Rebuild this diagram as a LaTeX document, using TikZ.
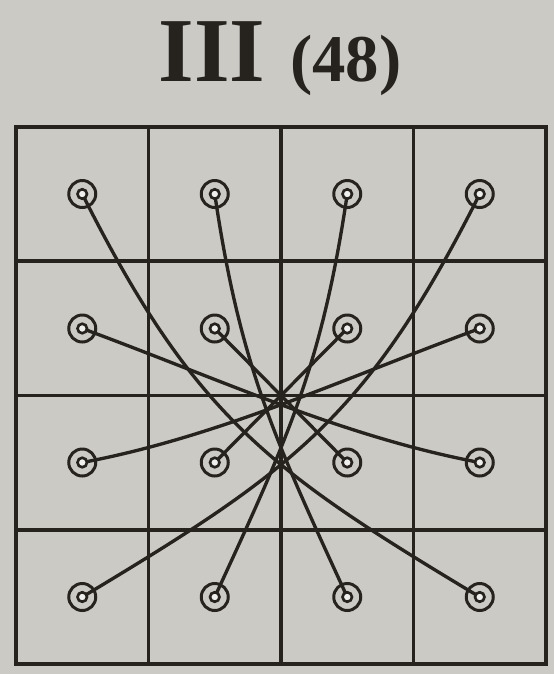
\documentclass[tikz,border=0pt]{standalone}
\usepackage{fontspec}
\setmainfont{Liberation Serif}
\definecolor{paper}{RGB}{203,202,197}
\definecolor{ink}{RGB}{38,34,30}

\begin{document}
\begin{tikzpicture}[
  cellline/.style={draw=ink,line width=2pt},
  thread/.style={draw=ink,line width=1.9pt},
  ring/.style={circle,draw=ink,line width=1.7pt,minimum size=0.54cm,inner sep=0pt,
    path picture={\draw[ink,line width=1.5pt,fill=white!70!paper] (path picture bounding box.center) circle (0.095);}}]
\useasboundingbox[fill=paper] (0,0) rectangle (11.08,-13.48);
\node[font=\bfseries,text=ink,anchor=base] (title) at (5.6,-1.62) {\fontsize{52}{52}\selectfont III\hspace{0.5cm}\fontsize{38}{38}\selectfont (48)};
% peg positions, row by row
\coordinate (p11) at (1.645,-3.88); \coordinate (p12) at (4.295,-3.88);
\coordinate (p13) at (6.945,-3.88); \coordinate (p14) at (9.595,-3.88);
\coordinate (p21) at (1.645,-6.57); \coordinate (p22) at (4.295,-6.57);
\coordinate (p23) at (6.945,-6.57); \coordinate (p24) at (9.595,-6.57);
\coordinate (p31) at (1.645,-9.25); \coordinate (p32) at (4.295,-9.25);
\coordinate (p33) at (6.945,-9.25); \coordinate (p34) at (9.595,-9.25);
\coordinate (p41) at (1.645,-11.94); \coordinate (p42) at (4.295,-11.94);
\coordinate (p43) at (6.945,-11.94); \coordinate (p44) at (9.595,-11.94);
% board
\draw[cellline] (0.32,-2.54) rectangle (10.92,-13.28);
\draw[cellline] (2.97,-2.54) -- (2.97,-13.28);
\draw[cellline] (5.62,-2.54) -- (5.62,-13.28);
\draw[cellline] (8.27,-2.54) -- (8.27,-13.28);
\draw[cellline] (0.32,-5.225) -- (10.92,-5.225);
\draw[cellline] (0.32,-7.91) -- (10.92,-7.91);
\draw[cellline] (0.32,-10.595) -- (10.92,-10.595);
% threads
\draw[thread] (p11) .. controls (3.90,-8.36) and (5.40,-9.42) .. (p44);
\draw[thread] (p14) .. controls (7.34,-8.36) and (5.84,-9.42) .. (p41);
\draw[thread] (p12) .. controls (4.80,-7.30) and (5.48,-8.76) .. (p43);
\draw[thread] (p13) .. controls (6.44,-7.30) and (5.76,-8.76) .. (p42);
\draw[thread] (p22) -- (p33);
\draw[thread] (p23) -- (p32);
\draw[thread] (p21) .. controls (4.44,-7.60) and (6.88,-8.74) .. (p34);
\draw[thread] (p24) .. controls (6.80,-7.60) and (4.36,-8.74) .. (p31);
% pegs
\node[ring] (r11) at (p11) {}; \node[ring] (r12) at (p12) {};
\node[ring] (r13) at (p13) {}; \node[ring] (r14) at (p14) {};
\node[ring] (r21) at (p21) {}; \node[ring] (r22) at (p22) {};
\node[ring] (r23) at (p23) {}; \node[ring] (r24) at (p24) {};
\node[ring] (r31) at (p31) {}; \node[ring] (r32) at (p32) {};
\node[ring] (r33) at (p33) {}; \node[ring] (r34) at (p34) {};
\node[ring] (r41) at (p41) {}; \node[ring] (r42) at (p42) {};
\node[ring] (r43) at (p43) {}; \node[ring] (r44) at (p44) {};
\end{tikzpicture}
\end{document}
